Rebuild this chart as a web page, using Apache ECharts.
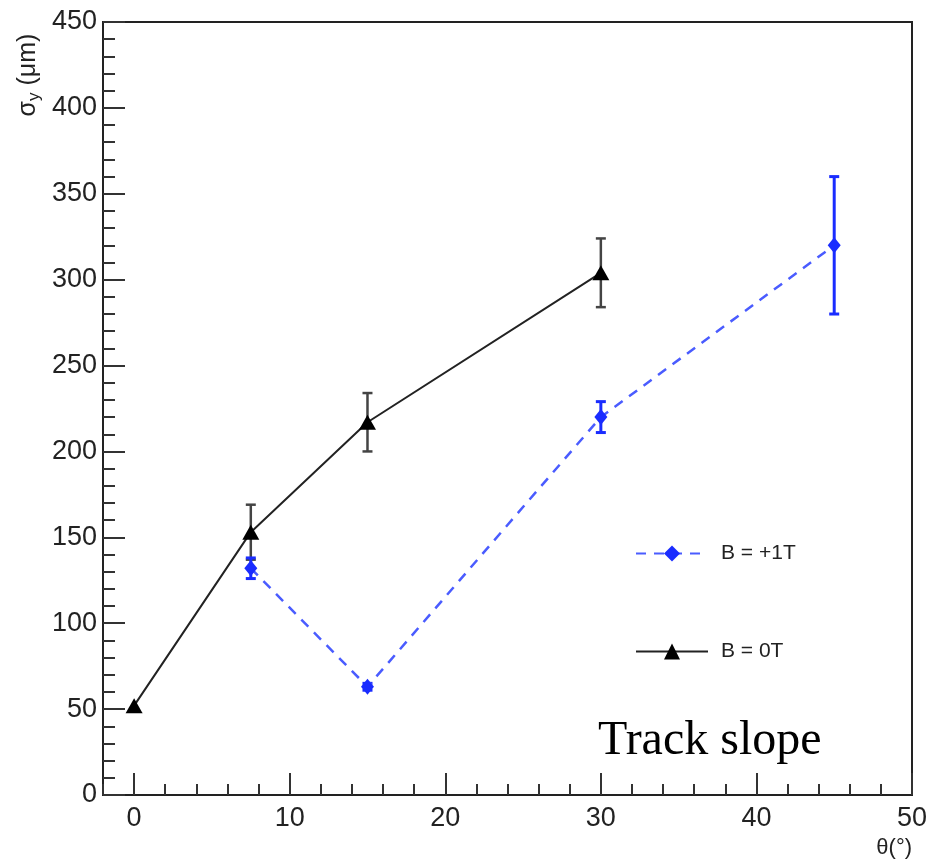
<!DOCTYPE html>
<html>
<head>
<meta charset="utf-8">
<script src="https://cdn.jsdelivr.net/npm/echarts@6/dist/echarts.min.js"></script>
<style>html,body{margin:0;padding:0;background:#fff;}#c{width:932px;height:864px;}</style>
</head>
<body>
<div id="c"></div>
<script>
// ---- data ----
const b0Name = 'B = 0T';
const b0X = [0, 7.5, 15, 30];
const b0Y = [52, 153, 217, 304];
const b0Err = [0, 16, 17, 20];

const b1Name = 'B = +1T';
const b1X = [7.5, 15, 30, 45];
const b1Y = [132, 63, 220, 320];
const b1Err = [6, 2, 9, 40];

const xMajorTicks = [0, 10, 20, 30, 40, 50];
const yTickInterval = 50;

const chart = echarts.init(document.getElementById('c'));

function pts(xs, ys) { return xs.map((x, i) => [x, ys[i]]); }
function errs(xs, ys, es) { return xs.map((x, i) => [x, ys[i], es[i]]); }

function errorRenderer(color, width, cap) {
  return function (params, api) {
    const x = api.value(0), y = api.value(1), e = api.value(2);
    if (!e) return null;
    const t = api.coord([x, y + e]);
    const b = api.coord([x, y - e]);
    const st = { stroke: color, lineWidth: width };
    return {
      type: 'group',
      children: [
        { type: 'line', shape: { x1: t[0], y1: t[1], x2: b[0], y2: b[1] }, style: st },
        { type: 'line', shape: { x1: t[0] - cap, y1: t[1], x2: t[0] + cap, y2: t[1] }, style: st },
        { type: 'line', shape: { x1: b[0] - cap, y1: b[1], x2: b[0] + cap, y2: b[1] }, style: st }
      ]
    };
  };
}

const axisColor = '#222';
const labelFont = { fontFamily: 'Liberation Sans, Arial, sans-serif', fontSize: 27, color: '#222' };

const option = {
  animation: false,
  backgroundColor: '#fff',
  grid: { left: 103, right: 20, top: 22, bottom: 69, show: true, borderColor: axisColor, borderWidth: 2, backgroundColor: 'transparent' },
  legend: {
    orient: 'vertical',
    left: 630, top: 538,
    itemWidth: 72, itemHeight: 20, itemGap: 77,
    data: [b1Name, b0Name],
    textStyle: { fontFamily: 'Liberation Sans, Arial, sans-serif', fontSize: 21, color: '#222', padding: [0, 0, 0, 8] }
  },
  xAxis: [{
    type: 'value', min: -2, max: 50,
    axisLine: { show: true, onZero: false, lineStyle: { color: axisColor, width: 2 } },
    axisTick: { show: true, inside: true, length: 22, customValues: xMajorTicks, lineStyle: { color: '#333', width: 2 } },
    axisLabel: { show: true, customValues: xMajorTicks, margin: 10, ...labelFont },
    splitLine: { show: false }
  }, {
    type: 'value', min: -2, max: 50, interval: 2, position: 'bottom',
    axisLine: { show: false, onZero: false },
    axisTick: { show: true, inside: true, length: 11, lineStyle: { color: '#333', width: 2 } },
    axisLabel: { show: false },
    splitLine: { show: false }
  }],
  yAxis: {
    type: 'value', min: 0, max: 450, interval: yTickInterval,
    axisLine: { show: true, onZero: false, lineStyle: { color: axisColor, width: 2 } },
    axisTick: { show: true, inside: true, length: 22, lineStyle: { color: '#333', width: 2 } },
    minorTick: { show: true, splitNumber: 5, length: 12, lineStyle: { color: '#333', width: 2 } },
    axisLabel: { margin: 6, ...labelFont },
    splitLine: { show: false },
    minorSplitLine: { show: false }
  },
  series: [
    {
      type: 'custom', name: 'err0', xAxisIndex: 0, z: 1,
      renderItem: errorRenderer('#444', 2.5, 5),
      data: errs(b0X, b0Y, b0Err), silent: true
    },
    {
      type: 'custom', name: 'err1', xAxisIndex: 0, z: 1,
      renderItem: errorRenderer('#1a2cff', 3, 5),
      data: errs(b1X, b1Y, b1Err), silent: true
    },
    {
      type: 'line', name: b1Name, xAxisIndex: 0, z: 3,
      data: pts(b1X, b1Y),
      symbol: 'diamond', symbolSize: [13, 16],
      itemStyle: { color: '#1a2cff' },
      lineStyle: { color: '#4a5cff', width: 2.5, type: [10, 8] }
    },
    {
      type: 'line', name: b0Name, xAxisIndex: 0, z: 3,
      data: pts(b0X, b0Y),
      symbol: 'triangle', symbolSize: [17, 15],
      itemStyle: { color: '#000' },
      lineStyle: { color: '#222', width: 2 }
    }
  ],
  graphic: [
    {
      type: 'text', x: 28, y: 75, rotation: Math.PI / 2,
      style: {
        text: '{a|σ}{s|y}{a| (μm)}',
        align: 'center', verticalAlign: 'middle',
        rich: {
          a: { fontFamily: 'Liberation Sans, Arial, sans-serif', fontSize: 25, fill: '#222' },
          s: { fontFamily: 'Liberation Sans, Arial, sans-serif', fontSize: 17, fill: '#222', verticalAlign: 'bottom', padding: [13, 0, 0, 0] }
        }
      }
    },
    {
      type: 'text', x: 912, y: 848,
      style: { text: 'θ(°)', align: 'right', verticalAlign: 'middle', fontFamily: 'Liberation Sans, Arial, sans-serif', fontSize: 22, fill: '#222' }
    },
    {
      type: 'text', x: 598, y: 741,
      style: { text: 'Track slope', align: 'left', verticalAlign: 'middle', fontFamily: 'Liberation Serif, Times New Roman, serif', fontSize: 48, fill: '#000' }
    }
  ]
};
chart.setOption(option);
</script>
</body>
</html>
